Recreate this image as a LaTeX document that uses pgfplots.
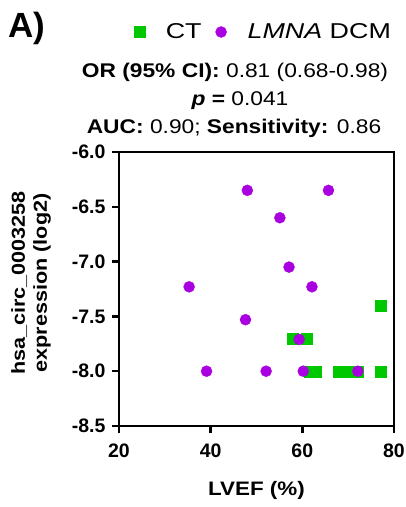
\documentclass[border=0pt]{standalone}
\usepackage{fontspec}
\setmainfont{Liberation Sans}
\newfontfamily\wide{Liberation Sans}[FakeStretch=1.15]
\newfontfamily\wider{Liberation Sans}[FakeStretch=1.25]
\usepackage{pgfplots}
\pgfplotsset{compat=1.18}
\definecolor{ctgreen}{RGB}{0,200,0}
\definecolor{dcmpurple}{RGB}{170,0,225}
\begin{document}
\begin{tikzpicture}
\path[use as bounding box] (0,0) rectangle (406pt,-507pt);
\begin{axis}[
  at={(119pt,-426pt)}, anchor=south west,
  scale only axis, width=275pt, height=274pt,
  xmin=20, xmax=80, ymin=-8.5, ymax=-6.0,
  xtick={20,40,60,80}, ytick={-8.5,-8,-7.5,-7,-6.5,-6},
  axis line style={line width=2.5pt},
  every tick/.style={line width=2.5pt, black},
  tick align=outside, major tick length=7pt,
  xtick pos=bottom, ytick pos=left,
  /pgf/number format/assume math mode=true,
  ticklabel style={font=\bfseries\fontsize{19.5}{21}\selectfont},
  xticklabel style={yshift=-7pt},
  yticklabel style={xshift=-3pt},
  yticklabel={\pgfmathprintnumber[fixed, fixed zerofill, precision=1, assume math mode=true]{\tick}},
  xlabel={\bfseries LVEF (\%)},
  xlabel style={font=\wide\fontsize{19.5}{21}\selectfont, at={(axis description cs:0.5,-0.237)}, anchor=center},
  ylabel={\bfseries hsa\_circ\_0003258\\\bfseries expression (log2)},
  ylabel style={font=\wide\fontsize{18.8}{22}\selectfont, align=center, at={(axis description cs:-0.32,0.522)}, anchor=center, rotate=0},
  legend columns=2,
  legend style={draw=none, at={(axis description cs:0.525,1.438)}, anchor=center, font=\wider\fontsize{21.5}{23}\selectfont,
    /tikz/every odd column/.append style={column sep=19pt},
    /tikz/every even column/.append style={column sep=12pt}},
  legend cell align=left,
  clip=false,
]
\addplot[only marks, mark=square*, mark size=5.5pt, color=ctgreen] coordinates {
(58,-7.7) (61,-7.7) (61.5,-8.0) (63,-8.0) (68,-8.0) (70,-8.0) (72,-8.0) (77,-8.0) (77,-7.4)};
\addlegendentry{CT}
\addplot[only marks, mark=*, mark size=5.5pt, color=dcmpurple] coordinates {
(48,-6.35) (65.7,-6.35) (55.1,-6.6) (57.1,-7.05) (35.3,-7.23) (62.1,-7.23) (47.6,-7.53) (59.3,-7.71) (39.1,-8.0) (52.1,-8.0) (60.2,-8.0) (72.1,-8.0)};
\addlegendentry{\textit{LMNA} DCM}
\end{axis}
\node[anchor=base west, inner sep=0pt, font=\bfseries\fontsize{35}{38}\selectfont] at (8pt,-37pt) {A)};
\node[anchor=base, font=\wide\fontsize{19.8}{21}\selectfont] at (235pt,-77pt) {\textbf{OR (95\% CI):} 0.81 (0.68-0.98)};
\node[anchor=base, font=\wide\fontsize{19.8}{21}\selectfont] at (240pt,-105pt) {\textbf{\textit{p} =} 0.041};
\node[anchor=base, font=\wide\fontsize{19.8}{21}\selectfont] at (234pt,-133pt) {\textbf{AUC:} 0.90; \textbf{Sensitivity:} 0.86};
\end{tikzpicture}
\end{document}
